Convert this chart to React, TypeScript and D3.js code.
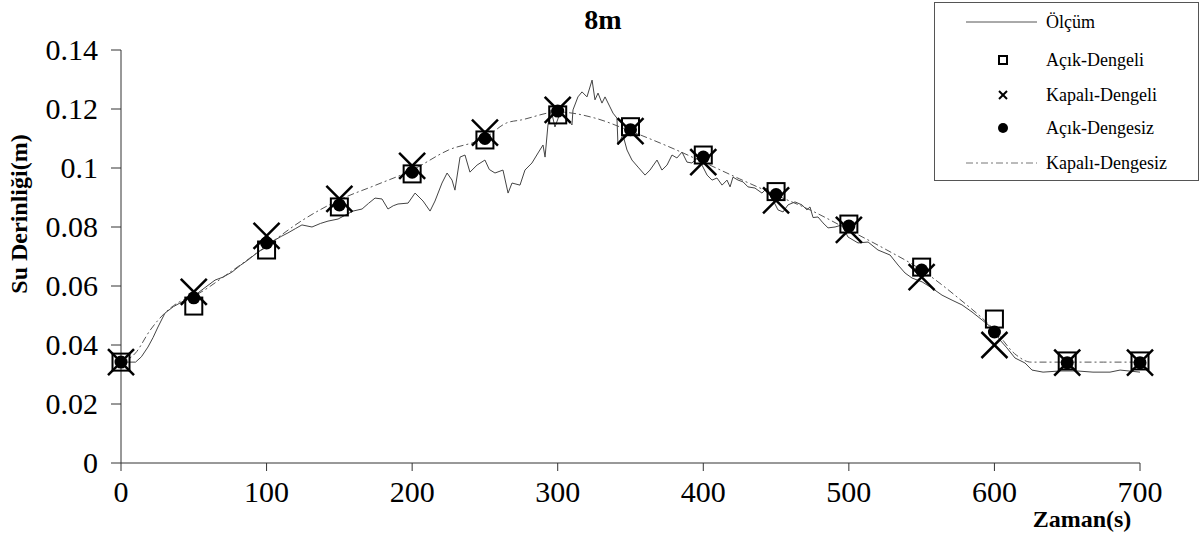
import React from "react";
import * as d3 from "d3";

// Model output times (s)
const modelTimes = [0, 50, 100, 150, 200, 250, 300, 350, 400, 450, 500, 550, 600, 650, 700];

// Water depth (m) for each model variant
const acikDengeli = [0.0342, 0.0532, 0.0722, 0.0868, 0.098, 0.1095, 0.118, 0.114, 0.1044, 0.092, 0.081, 0.0664, 0.0488, 0.0346, 0.0346];
const kapaliDengeli = [0.0342, 0.058, 0.077, 0.0895, 0.1007, 0.112, 0.1197, 0.1125, 0.102, 0.089, 0.079, 0.063, 0.04, 0.034, 0.034];
const acikDengesiz = [0.0342, 0.056, 0.0746, 0.0875, 0.0986, 0.11, 0.1193, 0.113, 0.1037, 0.091, 0.0803, 0.0654, 0.0444, 0.034, 0.034];

// Kapalı-Dengesiz continuous solution
const kdTimes = [0, 10, 20, 30, 40, 50, 75, 100, 125, 150, 175, 200, 225, 250, 265, 275, 300, 325, 350, 375, 400, 425, 450, 475, 500, 525, 550, 575, 600, 615, 625, 650, 675, 700];
const kdDepth = [0.0339, 0.0373, 0.045, 0.0508, 0.0546, 0.0566, 0.0647, 0.0736, 0.0824, 0.0892, 0.0942, 0.0993, 0.1061, 0.1102, 0.1153, 0.1163, 0.119, 0.117, 0.1125, 0.1075, 0.102, 0.0963, 0.0908, 0.0854, 0.079, 0.0725, 0.0654, 0.056, 0.0451, 0.0366, 0.0342, 0.0342, 0.0342, 0.0342];

// Measured water depth [time (s), depth (m)]
const olcum: [number, number][] = [
  [0, 0.0342], [5, 0.0342], [10, 0.0342], [14, 0.036], [18.5, 0.0393], [22, 0.0425], [25.4, 0.0461], [30.2, 0.0508],
  [36, 0.053], [41.9, 0.0546], [46, 0.056], [50.8, 0.0569], [57, 0.0592], [64.6, 0.062], [70, 0.063], [76.2, 0.0647],
  [82, 0.067], [87.2, 0.0688], [94.1, 0.0715], [100, 0.0732], [105.8, 0.0756], [110, 0.0768], [114.7, 0.078], [120, 0.0795],
  [124.3, 0.0807], [131.2, 0.08], [137, 0.0812], [142.2, 0.082], [149.1, 0.0827], [154, 0.084], [159.4, 0.0854], [165.6, 0.0861],
  [170, 0.088], [174.5, 0.0898], [179.3, 0.0895], [183.4, 0.0861], [187, 0.0872], [190.3, 0.0878], [197.2, 0.0881], [202, 0.0915],
  [207.5, 0.0888], [212.3, 0.0854], [215.7, 0.0888], [220.5, 0.0949], [224, 0.0983], [227.4, 0.0959], [229.4, 0.0925], [232.9, 0.1037],
  [236.3, 0.1044], [239.7, 0.0986], [244.6, 0.101], [250, 0.1027], [253, 0.0995], [256.9, 0.0983], [262.4, 0.0993], [265.9, 0.0915],
  [268.6, 0.0949], [274.1, 0.0942], [277.5, 0.0993], [282.3, 0.1017], [286.5, 0.1051], [289.9, 0.1078], [291.3, 0.1037], [293.3, 0.1146],
  [295.4, 0.1197], [298.1, 0.1139], [301.6, 0.1186], [306.4, 0.1169], [309.8, 0.1146], [310.5, 0.1197], [313.9, 0.1241], [316.7, 0.1258],
  [320.1, 0.1241], [323.6, 0.1298], [325.6, 0.1231], [327.7, 0.1254], [330.4, 0.122], [332.5, 0.1241], [335.9, 0.1207], [338, 0.1186],
  [340.7, 0.1169], [341.4, 0.1078], [344.8, 0.1112], [347.6, 0.1061], [351, 0.1027], [355.2, 0.1003], [360, 0.0976], [363.4, 0.0993],
  [368.2, 0.1027], [371.6, 0.0993], [375.1, 0.101], [378.5, 0.1044], [381.9, 0.1034], [385.4, 0.1054], [388.8, 0.102], [392.2, 0.1017],
  [395.7, 0.1034], [399.1, 0.101], [402.6, 0.0976], [406, 0.0959], [409.4, 0.0966], [412.9, 0.0942], [416.3, 0.0959], [418.4, 0.0936],
  [420.4, 0.0969], [423.9, 0.0959], [427.3, 0.0953], [430.7, 0.0936], [435.5, 0.0932], [440.3, 0.0915], [443.8, 0.0932], [447.2, 0.0898],
  [451.3, 0.0858], [454.8, 0.0851], [458.2, 0.0875], [463, 0.0885], [467.8, 0.0875], [471.2, 0.0858], [473.3, 0.0868], [475.4, 0.0832],
  [478.8, 0.0834], [482.2, 0.0814], [485.7, 0.0797], [490.5, 0.08], [495.3, 0.0807], [499.4, 0.0766], [506.3, 0.0746], [513.2, 0.0749],
  [520, 0.0722], [528.3, 0.0705], [533.8, 0.0671], [538.6, 0.0644], [543.4, 0.0627], [550.3, 0.0614], [557.1, 0.0593], [564, 0.0569],
  [570.9, 0.0552], [577.7, 0.0536], [584.6, 0.0512], [591.5, 0.0485], [598.3, 0.0458], [603.8, 0.0417], [608.6, 0.039], [614.1, 0.0356],
  [621, 0.0339], [625.8, 0.0315], [633.4, 0.0308], [645, 0.0312], [656.7, 0.0312], [667.7, 0.0308], [679.4, 0.0308], [686.3, 0.0315],
  [700, 0.0308],
];

const xTicks = [0, 100, 200, 300, 400, 500, 600, 700];
const yTicks = [0, 0.02, 0.04, 0.06, 0.08, 0.1, 0.12, 0.14];

const legendLabels = ["Ölçüm", "Açık-Dengeli", "Kapalı-Dengeli", "Açık-Dengesiz", "Kapalı-Dengesiz"];

const W = 1203;
const H = 534;
const SERIF = "'Liberation Serif', 'Times New Roman', serif";
const DASHDOT = "7 3 2 3";

export default function App() {
  const x = d3.scaleLinear().domain([0, 700]).range([121, 1140]);
  const y = d3.scaleLinear().domain([0, 0.14]).range([463, 50]);

  const measuredPath = d3
    .line<[number, number]>()
    .x((d) => x(d[0]))
    .y((d) => y(d[1]))(olcum) as string;

  const kdPath = d3
    .line<number>()
    .x((_, i) => x(kdTimes[i]))
    .y((d) => y(d))
    .curve(d3.curveMonotoneX)(kdDepth) as string;

  const fmt = (v: number) => String(+v.toFixed(2));

  const sq = 17;
  const xs = 13;
  const legendX = 1003;
  const legendRows = [22, 60, 95, 128, 163];

  return (
    <svg
      width={W}
      height={H}
      style={{ position: "absolute", left: 0, top: 0, background: "#fff" }}
      fontFamily={SERIF}
    >
      <rect x={0} y={0} width={W} height={H} fill="#fff" />

      {/* title */}
      <text x={603} y={29} textAnchor="middle" fontSize={28} fontWeight="bold">
        8m
      </text>

      {/* y axis */}
      <line x1={121} x2={121} y1={y(0.14)} y2={y(0)} stroke="#333" strokeWidth={1} />
      {yTicks.map((t) => (
        <g key={"y" + t}>
          <line x1={111} x2={121} y1={y(t)} y2={y(t)} stroke="#333" strokeWidth={1} />
          <text x={98} y={y(t) + 10} textAnchor="end" fontSize={30}>
            {fmt(t)}
          </text>
        </g>
      ))}

      {/* x axis */}
      <line x1={x(0)} x2={x(700)} y1={463} y2={463} stroke="#333" strokeWidth={1} />
      {xTicks.map((t) => (
        <g key={"x" + t}>
          <line x1={x(t)} x2={x(t)} y1={463} y2={471} stroke="#333" strokeWidth={1} />
          <text x={x(t)} y={502} textAnchor="middle" fontSize={30}>
            {t}
          </text>
        </g>
      ))}

      <text
        transform={`translate(27,${214}) rotate(-90)`}
        textAnchor="middle"
        fontSize={24}
        fontWeight="bold"
      >
        Su Derinliği(m)
      </text>
      <text x={1082} y={527} textAnchor="middle" fontSize={24} fontWeight="bold">
        Zaman(s)
      </text>

      {/* measured and continuous series */}
      <path d={measuredPath} fill="none" stroke="#444" strokeWidth={1} />
      <path d={kdPath} fill="none" stroke="#555" strokeWidth={1} strokeDasharray={DASHDOT} />

      {/* model markers */}
      {modelTimes.map((t, i) => (
        <rect
          key={"s" + t}
          x={x(t) - sq / 2}
          y={y(acikDengeli[i]) - sq / 2}
          width={sq}
          height={sq}
          fill="none"
          stroke="#000"
          strokeWidth={2}
        />
      ))}
      {modelTimes.map((t, i) => {
        const cx = x(t);
        const cy = y(kapaliDengeli[i]);
        return (
          <g key={"k" + t} stroke="#000" strokeWidth={2.5}>
            <line x1={cx - xs} y1={cy - xs} x2={cx + xs} y2={cy + xs} />
            <line x1={cx - xs} y1={cy + xs} x2={cx + xs} y2={cy - xs} />
          </g>
        );
      })}
      {modelTimes.map((t, i) => (
        <circle key={"c" + t} cx={x(t)} cy={y(acikDengesiz[i])} r={6.5} fill="#000" />
      ))}

      {/* legend */}
      <rect x={934.5} y={2.5} width={264} height={178} fill="#fff" stroke="#555" strokeWidth={1} />
      <line x1={966} x2={1037} y1={legendRows[0]} y2={legendRows[0]} stroke="#555" strokeWidth={1} />
      <rect x={legendX - 4} y={legendRows[1] - 4} width={8} height={8} fill="none" stroke="#000" strokeWidth={2} />
      <g stroke="#000" strokeWidth={2}>
        <line x1={legendX - 4} y1={legendRows[2] - 4} x2={legendX + 4} y2={legendRows[2] + 4} />
        <line x1={legendX - 4} y1={legendRows[2] + 4} x2={legendX + 4} y2={legendRows[2] - 4} />
      </g>
      <circle cx={legendX} cy={legendRows[3]} r={5} fill="#000" />
      <line
        x1={966}
        x2={1037}
        y1={legendRows[4]}
        y2={legendRows[4]}
        stroke="#777"
        strokeWidth={1}
        strokeDasharray={DASHDOT}
      />
      {legendLabels.map((l, i) => (
        <text key={l} x={1046} y={legendRows[i] + 6} fontSize={18}>
          {l}
        </text>
      ))}
    </svg>
  );
}
